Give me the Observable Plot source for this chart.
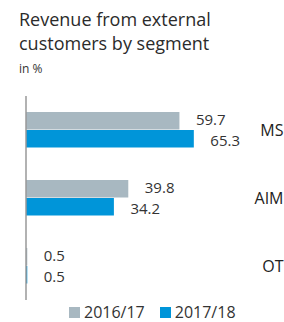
<!DOCTYPE html>
<html>
<head>
<meta charset="utf-8">
<script src="https://cdn.jsdelivr.net/npm/d3@7"></script>
<script src="https://cdn.jsdelivr.net/npm/@observablehq/plot@0.6"></script>
<style>
  html, body { margin: 0; padding: 0; background: #fff; }
  body { width: 284px; height: 322px; position: relative; overflow: hidden; font-family: "Open Sans", sans-serif; color: #333; }
  #title { position: absolute; left: 19px; top: 7px; font-size: 18px; line-height: 24px; color: #2b2b2b; }
  #sub { position: absolute; left: 19px; top: 60px; font-size: 12px; color: #333; }
  #chart { position: absolute; left: 0; top: 90px; }
  #legend { position: absolute; left: 69px; top: 301px; font-size: 16px; color: #333; display: flex; align-items: center; white-space: nowrap; }
  .sw { display: inline-block; width: 11px; height: 11px; margin-right: 4px; }
  .item { display: flex; align-items: center; margin-right: 15px; }
</style>
</head>
<body>
<div id="title">Revenue from external<br>customers by segment</div>
<div id="sub">in %</div>
<div id="chart"></div>
<div id="legend"></div>
<script>
const segments = ["MS", "AIM", "OT"];
const years = ["2016/17", "2017/18"];
const values2016 = [59.7, 39.8, 0.5];
const values2017 = [65.3, 34.2, 0.5];
const colors = ["#a8b8c1", "#0095d9"];

const data = [];
segments.forEach((s, i) => {
  data.push({segment: s, year: years[0], value: values2016[i]});
  data.push({segment: s, year: years[1], value: values2017[i]});
});
const d2016 = data.filter(d => d.year === years[0]);
const d2017 = data.filter(d => d.year === years[1]);

const labelOpts = {fy: "segment", y: "year", x: "value", text: d => d.value.toFixed(1), textAnchor: "start", dx: 16, fontSize: 15, fill: "#333"};

const chart = Plot.plot({
  width: 284,
  height: 210,
  marginLeft: 26,
  marginRight: 1,
  marginTop: 6,
  marginBottom: 0,
  style: {fontFamily: "Open Sans, sans-serif", background: "transparent"},
  x: {domain: [0, 100], axis: null},
  y: {domain: years, paddingInner: 0, paddingOuter: 0.84, axis: null},
  fy: {domain: segments, padding: 0, axis: null},
  color: {domain: years, range: colors},
  marks: [
    Plot.barX(data, {fy: "segment", y: "year", x: "value", fill: "year", insetBottom: 0.5}),
    Plot.text(d2016, {...labelOpts, dy: -1}),
    Plot.text(d2017, {...labelOpts, dy: 1.5}),
    Plot.text(segments, {fy: d => d, text: d => d, frameAnchor: "right", textAnchor: "end", fontSize: 16, fill: "#222"}),
    Plot.ruleX([0], {stroke: "#999", strokeWidth: 1.5, dx: -0.5})
  ]
});
document.getElementById("chart").appendChild(chart);

const legend = document.getElementById("legend");
years.forEach((y, i) => {
  const item = document.createElement("span");
  item.className = "item";
  const sw = document.createElement("span");
  sw.className = "sw";
  sw.style.background = colors[i];
  item.appendChild(sw);
  item.appendChild(document.createTextNode(y));
  legend.appendChild(item);
});
</script>
</body>
</html>
